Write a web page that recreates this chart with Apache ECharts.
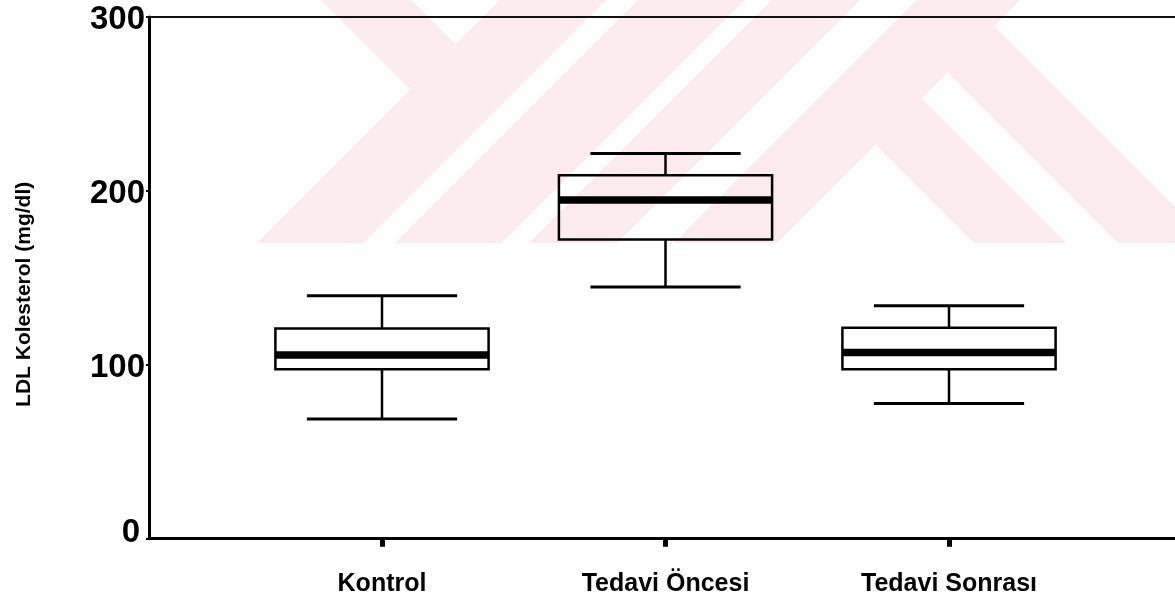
<!DOCTYPE html>
<html>
<head>
<meta charset="utf-8">
<script src="https://cdn.jsdelivr.net/npm/echarts@6/dist/echarts.min.js"></script>
<style>
html,body{margin:0;padding:0;background:#fff;}
#chart{width:1175px;height:605px;}
</style>
</head>
<body>
<div id="chart"></div>
<script>
// ---- data ----
const categories = ['Kontrol', 'Tedavi Öncesi', 'Tedavi Sonrası'];
const minVals    = [68.8, 144.8, 77.8];
const q1Vals     = [97.4, 172.1, 97.5];
const medianVals = [105.6, 194.7, 107.1];
const q3Vals     = [120.9, 209.0, 121.3];
const maxVals    = [139.7, 221.5, 133.9];
const yTicks     = [0, 100, 200, 300];
const yAxisTitle = 'LDL Kolesterol (mg/dl)';

// ---- build ----
const boxData = categories.map((c, i) => [i, minVals[i], q1Vals[i], medianVals[i], q3Vals[i], maxVals[i]]);

// faint background watermark (decoration, pixel space)
const wmColor = '#fcebee';
const wmPolys = [
  [[321,0],[411,0],[455.5,44.5],[410.5,89.5]],
  [[500,0],[606,0],[363,243],[257,243]],
  [[638,0],[745,0],[502,243],[395,243]],
  [[772,0],[860,0],[617,243],[529,243]],
  [[917,0],[1020,0],[777,243],[674,243]],
  [[875.5,144.5],[921.5,98.5],[1066,243],[974,243]],
  [[947.5,72.5],[994,26],[1211,243],[1118,243]]
];

function renderBox(params, api) {
  const idx = api.value(0);
  const band = api.size([1, 0])[0];
  const bw = band * 0.752;
  const cw = band * 0.53;
  const pMin = api.coord([idx, api.value(1)]);
  const pQ1 = api.coord([idx, api.value(2)]);
  const pMed = api.coord([idx, api.value(3)]);
  const pQ3 = api.coord([idx, api.value(4)]);
  const pMax = api.coord([idx, api.value(5)]);
  const cx = pMed[0];
  const st = {stroke: '#000', lineWidth: 2.5, fill: null};
  return {
    type: 'group',
    children: [
      {type: 'line', shape: {x1: cx, y1: pQ3[1], x2: cx, y2: pMax[1]}, style: st},
      {type: 'line', shape: {x1: cx, y1: pQ1[1], x2: cx, y2: pMin[1]}, style: st},
      {type: 'line', shape: {x1: cx - cw/2, y1: pMax[1], x2: cx + cw/2, y2: pMax[1]}, style: {stroke:'#000', lineWidth: 3}},
      {type: 'line', shape: {x1: cx - cw/2, y1: pMin[1], x2: cx + cw/2, y2: pMin[1]}, style: {stroke:'#000', lineWidth: 3}},
      {type: 'rect', shape: {x: cx - bw/2, y: pQ3[1], width: bw, height: pQ1[1] - pQ3[1]}, style: {stroke:'#000', lineWidth: 2.5, fill: 'none'}},
      {type: 'line', shape: {x1: cx - bw/2, y1: pMed[1], x2: cx + bw/2, y2: pMed[1]}, style: {stroke:'#000', lineWidth: 7.5}}
    ]
  };
}

const chart = echarts.init(document.getElementById('chart'), null, {renderer: 'canvas'});
const option = {
  backgroundColor: '#ffffff',
  animation: false,
  graphic: [{
    type: 'group',
    z: -100,
    silent: true,
    children: wmPolys.map(p => ({type: 'polygon', z: -100, shape: {points: p}, style: {fill: wmColor}}))
  }],
  grid: [
    {left: 149, right: 0, top: 17, bottom: 66.3},
    {left: 240.25, width: 850.5, top: 17, bottom: 66.3}
  ],
  xAxis: [
    {gridIndex: 0, type: 'value', min: 0, max: 1, position: 'bottom',
     axisLine: {show: true, onZero: false, lineStyle: {color: '#000', width: 3}},
     axisTick: {show: false}, axisLabel: {show: false}, splitLine: {show: false}},
    {gridIndex: 0, type: 'value', min: 0, max: 1, position: 'top',
     axisLine: {show: true, onZero: false, lineStyle: {color: '#111', width: 2}},
     axisTick: {show: false}, axisLabel: {show: false}, splitLine: {show: false}},
    {gridIndex: 1, type: 'category', data: categories, boundaryGap: true, position: 'bottom',
     axisLine: {show: false, onZero: false},
     axisTick: {show: true, alignWithLabel: true, length: 8, lineStyle: {color: '#000', width: 5}},
     axisLabel: {show: true, margin: 33, color: '#000', fontSize: 25, fontWeight: 'bold', fontFamily: 'Liberation Sans, Arial, sans-serif'},
     splitLine: {show: false}}
  ],
  yAxis: [
    {gridIndex: 0, type: 'value', min: 0, max: 300, interval: 100,
     name: yAxisTitle, nameLocation: 'middle', nameGap: 114, nameRotate: 90,
     nameTextStyle: {color: '#000', fontSize: 21, fontWeight: 'bold', fontFamily: 'Liberation Sans, Arial, sans-serif', padding: [0, 33, 0, 0]},
     axisLine: {show: true, lineStyle: {color: '#000', width: 3}},
     axisTick: {show: true, length: 3, lineStyle: {color: '#000', width: 2}},
     axisLabel: {
       show: true, margin: 4, color: '#000',
       formatter: function (v) { return v === 0 ? '{z|' + v + '}' : '{a|' + v + '}'; },
       rich: {
         a: {fontSize: 33, fontWeight: 'bold', fontFamily: 'Liberation Sans, Arial, sans-serif', color: '#000', padding: [6, 0, 0, 0]},
         z: {fontSize: 33, fontWeight: 'bold', fontFamily: 'Liberation Sans, Arial, sans-serif', color: '#000', padding: [0, 5, 11, 0]}
       }
     },
     splitLine: {show: false}},
    {gridIndex: 1, type: 'value', min: 0, max: 300, interval: 100, show: false}
  ],
  series: [{
    type: 'custom',
    xAxisIndex: 2,
    yAxisIndex: 1,
    renderItem: renderBox,
    encode: {x: 0, y: [1, 2, 3, 4, 5]},
    data: boxData,
    z: 5
  }]
};
chart.setOption(option);
</script>
</body>
</html>
